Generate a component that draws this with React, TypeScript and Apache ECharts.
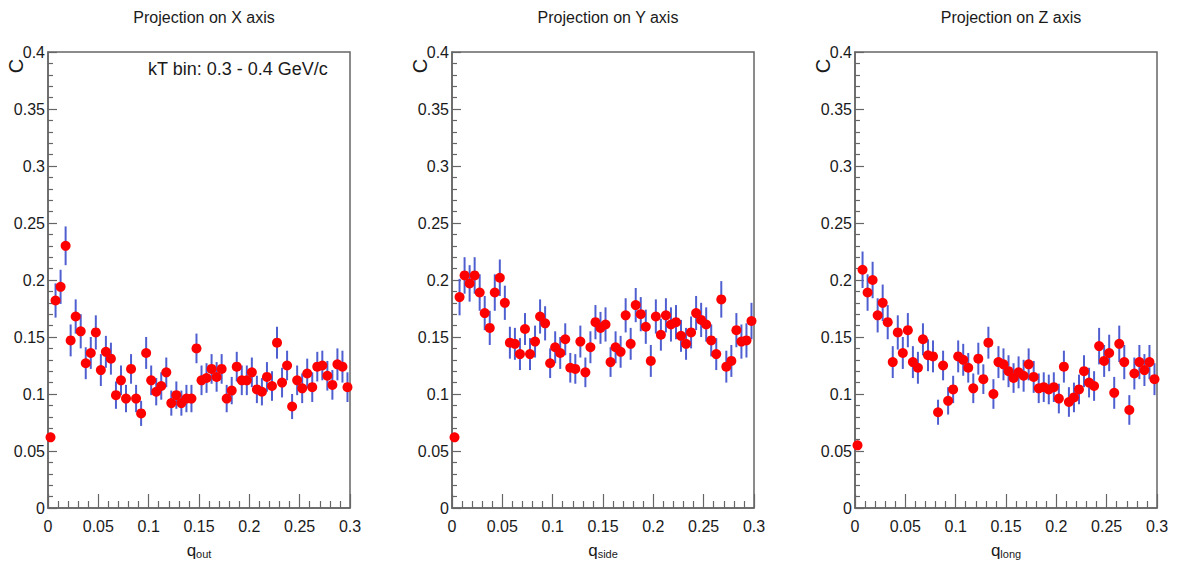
import React, { useEffect, useRef } from "react";
import * as echarts from "echarts";

const qBins = [
  0.0025, 0.0075, 0.0125, 0.0175, 0.0225, 0.0275, 0.0325, 0.0375, 0.0425, 0.0475,
  0.0525, 0.0575, 0.0625, 0.0675, 0.0725, 0.0775, 0.0825, 0.0875, 0.0925, 0.0975,
  0.1025, 0.1075, 0.1125, 0.1175, 0.1225, 0.1275, 0.1325, 0.1375, 0.1425, 0.1475,
  0.1525, 0.1575, 0.1625, 0.1675, 0.1725, 0.1775, 0.1825, 0.1875, 0.1925, 0.1975,
  0.2025, 0.2075, 0.2125, 0.2175, 0.2225, 0.2275, 0.2325, 0.2375, 0.2425, 0.2475,
  0.2525, 0.2575, 0.2625, 0.2675, 0.2725, 0.2775, 0.2825, 0.2875, 0.2925, 0.2975,
];

const cOut = [
  0.062, 0.182, 0.194, 0.230, 0.147, 0.168, 0.155, 0.127, 0.136, 0.154,
  0.121, 0.137, 0.131, 0.099, 0.112, 0.096, 0.122, 0.096, 0.083, 0.136,
  0.112, 0.102, 0.107, 0.119, 0.092, 0.099, 0.092, 0.096, 0.096, 0.140,
  0.112, 0.114, 0.122, 0.115, 0.122, 0.096, 0.103, 0.124, 0.112, 0.112,
  0.119, 0.104, 0.102, 0.115, 0.107, 0.145, 0.110, 0.125, 0.089, 0.112,
  0.105, 0.118, 0.106, 0.124, 0.125, 0.116, 0.108, 0.126, 0.124, 0.106,
];
const eOut = [
  0.004, 0.015, 0.015, 0.017, 0.014, 0.015, 0.015, 0.014, 0.014, 0.015,
  0.014, 0.014, 0.014, 0.012, 0.013, 0.012, 0.013, 0.012, 0.011, 0.014,
  0.013, 0.012, 0.012, 0.013, 0.011, 0.012, 0.011, 0.012, 0.012, 0.013,
  0.013, 0.013, 0.013, 0.013, 0.013, 0.012, 0.012, 0.013, 0.013, 0.013,
  0.013, 0.012, 0.012, 0.013, 0.013, 0.014, 0.013, 0.013, 0.011, 0.013,
  0.013, 0.013, 0.013, 0.013, 0.013, 0.013, 0.013, 0.014, 0.014, 0.013,
];

const cSide = [
  0.062, 0.185, 0.204, 0.197, 0.204, 0.189, 0.171, 0.158, 0.189, 0.202,
  0.180, 0.145, 0.144, 0.135, 0.157, 0.135, 0.146, 0.168, 0.162, 0.127,
  0.141, 0.136, 0.148, 0.123, 0.122, 0.146, 0.119, 0.141, 0.163, 0.158,
  0.161, 0.128, 0.141, 0.137, 0.169, 0.144, 0.178, 0.170, 0.159, 0.129,
  0.168, 0.152, 0.169, 0.161, 0.163, 0.151, 0.144, 0.154, 0.171, 0.165,
  0.161, 0.147, 0.135, 0.183, 0.124, 0.129, 0.156, 0.146, 0.147, 0.164,
];
const eSide = [
  0.004, 0.016, 0.016, 0.016, 0.016, 0.016, 0.015, 0.015, 0.016, 0.016,
  0.015, 0.014, 0.014, 0.014, 0.014, 0.014, 0.014, 0.015, 0.015, 0.013,
  0.014, 0.014, 0.014, 0.013, 0.013, 0.014, 0.013, 0.014, 0.015, 0.014,
  0.015, 0.013, 0.014, 0.014, 0.015, 0.014, 0.015, 0.015, 0.015, 0.014,
  0.015, 0.014, 0.015, 0.015, 0.015, 0.014, 0.014, 0.014, 0.015, 0.015,
  0.015, 0.014, 0.014, 0.016, 0.014, 0.014, 0.015, 0.015, 0.015, 0.016,
];

const cLong = [
  0.055, 0.209, 0.189, 0.200, 0.169, 0.180, 0.163, 0.128, 0.154, 0.136,
  0.156, 0.128, 0.123, 0.148, 0.134, 0.133, 0.084, 0.125, 0.094, 0.104,
  0.133, 0.130, 0.123, 0.105, 0.131, 0.113, 0.145, 0.100, 0.128, 0.126,
  0.120, 0.114, 0.119, 0.116, 0.126, 0.115, 0.105, 0.106, 0.104, 0.106,
  0.096, 0.124, 0.093, 0.097, 0.104, 0.120, 0.110, 0.107, 0.142, 0.129,
  0.136, 0.101, 0.144, 0.128, 0.086, 0.118, 0.128, 0.121, 0.128, 0.113,
];
const eLong = [
  0.004, 0.016, 0.016, 0.016, 0.015, 0.016, 0.015, 0.014, 0.015, 0.014,
  0.015, 0.014, 0.014, 0.014, 0.014, 0.014, 0.011, 0.013, 0.012, 0.012,
  0.014, 0.014, 0.013, 0.013, 0.014, 0.013, 0.014, 0.013, 0.014, 0.014,
  0.014, 0.013, 0.014, 0.014, 0.014, 0.014, 0.013, 0.013, 0.013, 0.013,
  0.013, 0.014, 0.013, 0.013, 0.013, 0.014, 0.013, 0.013, 0.016, 0.014,
  0.016, 0.014, 0.016, 0.015, 0.013, 0.014, 0.015, 0.014, 0.015, 0.014,
];

const panelTitles = ["Projection on X axis", "Projection on Y axis", "Projection on Z axis"];
const xSubscripts = ["out", "side", "long"];
const yTitle = "C";
const kTLabel = "kT bin: 0.3 - 0.4 GeV/c";

const FONT = "'Liberation Sans', Arial, Helvetica, sans-serif";
const TEXT = "#1a1a1a";
const FRAME = "#666666";
const MARKER = "#ff0000";
const ERRBAR = "#4f5fd0";

const gridLefts = [48, 452, 855];
const GRID_W = 302;
const GRID_TOP = 52;
const GRID_H = 456;

export default function App() {
  const ref = useRef<HTMLDivElement>(null);

  useEffect(() => {
    document.body.style.margin = "0";
    if (!ref.current) return;
    const chart = echarts.init(ref.current, undefined, { renderer: "svg" });

    const panels = [
      { c: cOut, e: eOut },
      { c: cSide, e: eSide },
      { c: cLong, e: eLong },
    ];

    const grids = gridLefts.map((l) => ({
      left: l,
      top: GRID_TOP,
      width: GRID_W,
      height: GRID_H,
      show: true,
      borderColor: FRAME,
      borderWidth: 1.5,
      backgroundColor: "transparent",
    }));

    const labelFmt = (v: number) => (v === 0 ? "0" : String(+v.toFixed(2)));

    const xAxes = panels.map((_, i) => ({
      type: "value",
      gridIndex: i,
      min: 0,
      max: 0.3,
      interval: 0.05,
      axisLine: { show: true, lineStyle: { color: FRAME, width: 1.5 } },
      axisTick: { show: true, inside: true, length: 14, lineStyle: { color: FRAME, width: 1.2 } },
      minorTick: { show: true, splitNumber: 5, length: 7, lineStyle: { color: FRAME, width: 1.2 } },
      splitLine: { show: false },
      axisLabel: {
        margin: 10,
        fontSize: 16,
        fontFamily: FONT,
        color: TEXT,
        showMinLabel: true,
        showMaxLabel: true,
        formatter: labelFmt,
      },
      name: `{q|q}{s|${xSubscripts[i]}}`,
      nameLocation: "middle",
      nameGap: 30,
      nameTextStyle: {
        fontFamily: FONT,
        color: TEXT,
        rich: {
          q: { fontSize: 17, fontFamily: FONT, color: TEXT, verticalAlign: "bottom" },
          s: { fontSize: 11, fontFamily: FONT, color: TEXT, verticalAlign: "bottom", padding: [10, 0, 0, 0] },
        },
      },
    }));

    const yAxes = panels.map((_, i) => ({
      type: "value",
      gridIndex: i,
      min: 0,
      max: 0.4,
      interval: 0.05,
      axisLine: { show: true, lineStyle: { color: FRAME, width: 1.5 } },
      axisTick: { show: true, inside: true, length: 9, lineStyle: { color: FRAME, width: 1.2 } },
      minorTick: { show: true, splitNumber: 5, length: 5, lineStyle: { color: FRAME, width: 1.2 } },
      splitLine: { show: false },
      axisLabel: {
        margin: 3,
        fontSize: 16,
        fontFamily: FONT,
        color: TEXT,
        showMinLabel: true,
        showMaxLabel: true,
        formatter: labelFmt,
      },
    }));

    const series: any[] = [];
    panels.forEach((p, i) => {
      const rows = qBins.map((q, k) => [q, p.c[k], p.e[k]]);
      series.push({
        type: "custom",
        xAxisIndex: i,
        yAxisIndex: i,
        data: rows,
        encode: { x: 0, y: 1 },
        z: 2,
        renderItem: (_params: any, api: any) => {
          const x = api.value(0);
          const y = api.value(1);
          const e = api.value(2);
          const a = api.coord([x, y - e]);
          const b = api.coord([x, y + e]);
          return {
            type: "line",
            shape: { x1: a[0], y1: a[1], x2: b[0], y2: b[1] },
            style: { stroke: ERRBAR, lineWidth: 2 },
          };
        },
      });
      series.push({
        type: "scatter",
        xAxisIndex: i,
        yAxisIndex: i,
        data: qBins.map((q, k) => [q, p.c[k]]),
        symbol: "circle",
        symbolSize: 10,
        itemStyle: { color: MARKER, opacity: 1 },
        z: 3,
      });
    });

    const titles = panelTitles.map((t, i) => ({
      text: t,
      left: gridLefts[i] + GRID_W / 2,
      top: 4,
      textAlign: "center",
      textStyle: { fontSize: 16, fontWeight: "normal", fontFamily: FONT, color: TEXT },
    }));

    const graphics: any[] = gridLefts.map((l) => ({
      type: "text",
      x: l - 32,
      y: 66,
      rotation: Math.PI / 2,
      style: {
        text: yTitle,
        fontSize: 20,
        fontFamily: FONT,
        fill: TEXT,
        align: "center",
        verticalAlign: "middle",
      },
    }));
    graphics.push({
      type: "text",
      left: 148,
      top: 60,
      style: { text: kTLabel, fontSize: 18, fontFamily: FONT, fill: TEXT },
    });

    chart.setOption({
      animation: false,
      backgroundColor: "#ffffff",
      title: titles,
      grid: grids,
      xAxis: xAxes,
      yAxis: yAxes,
      series,
      graphic: graphics,
    });

    return () => chart.dispose();
  }, []);

  return <div ref={ref} style={{ width: 1184, height: 568 }} />;
}
